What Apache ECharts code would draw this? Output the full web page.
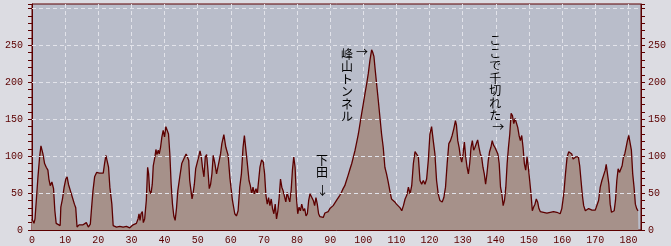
<!DOCTYPE html>
<html><head><meta charset="utf-8">
<script src="https://cdn.jsdelivr.net/npm/echarts@6/dist/echarts.min.js"></script>
<style>html,body{margin:0;padding:0;background:#dcdce2}#c{width:671px;height:246px}</style>
</head><body><div id="c"></div>
<script>
const dist = [0,0.3,0.6,0.9,1.3,1.8,2.3,2.7,3.3,3.8,4.3,4.8,5.1,5.5,6.0,6.5,6.9,7.3,7.9,8.5,8.7,9.2,9.7,10.2,10.6,11.0,11.6,12.2,12.8,13.2,13.6,14.2,14.8,15.4,16.0,16.4,17.0,17.6,18.0,18.4,18.9,19.5,19.9,20.4,20.9,21.5,21.9,22.3,22.7,23.1,23.5,24.1,24.5,25.5,26.5,27.5,28.5,29.5,30.0,30.5,31.0,31.5,32.0,32.3,32.6,32.9,33.3,33.6,34.0,34.5,34.9,35.2,35.5,35.9,36.3,36.6,37.1,37.4,37.7,38.1,38.4,38.8,39.2,39.6,40.0,40.4,40.8,41.2,41.6,42.0,42.4,42.8,43.2,43.6,44.0,44.6,45.2,45.6,46.1,46.5,46.9,47.3,47.6,48.0,48.3,48.6,49.0,49.4,49.8,50.3,50.7,51.1,51.5,51.9,52.3,52.7,53.1,53.5,53.9,54.3,54.7,55.2,55.7,56.1,56.5,56.9,57.3,57.9,58.5,59.2,59.7,60.5,61.2,61.7,62.2,62.7,63.2,63.7,64.1,64.5,64.9,65.5,65.9,66.3,66.7,67.1,67.6,68.0,68.4,68.8,69.3,69.8,70.2,70.6,71.0,71.4,71.8,72.2,72.6,73.0,73.4,73.8,74.2,74.6,75.0,75.4,75.8,76.2,76.6,77.0,77.4,77.8,78.2,78.6,79.0,79.4,79.8,80.2,80.6,81.0,81.4,81.9,82.3,82.7,83.1,83.5,83.9,84.4,84.9,85.3,85.7,86.1,86.5,86.9,87.4,87.9,88.4,88.9,89.4,89.9,90.4,90.9,91.4,91.9,92.4,92.9,93.4,93.9,94.4,94.9,95.4,96.0,96.5,97.0,97.5,98.0,98.5,99.0,99.5,100.0,100.5,101.0,101.5,102.0,102.5,102.8,103.2,103.6,104.0,104.5,105.0,105.5,106.0,106.5,107.0,107.5,108.0,108.5,109.0,109.5,110.0,110.5,111.1,111.6,112.1,112.6,113.1,113.6,114.1,114.6,115.1,115.6,116.1,116.6,117.1,117.6,118.1,118.6,119.1,119.6,120.1,120.6,121.1,121.6,122.1,122.6,123.1,123.8,124.3,124.8,125.3,125.8,126.3,126.8,127.3,127.8,128.1,128.5,128.9,129.3,129.7,130.1,130.5,130.9,131.3,131.7,132.1,132.5,132.9,133.3,133.7,134.1,134.5,134.9,135.3,135.7,136.1,136.5,136.9,137.3,137.7,138.1,138.5,138.9,139.3,139.7,140.2,140.6,141.0,141.4,141.8,142.2,142.6,143.0,143.4,143.8,144.2,144.6,145.0,145.4,145.8,146.2,146.6,147.0,147.4,147.8,148.2,148.6,149.0,149.4,149.8,150.2,150.6,151.0,151.4,151.8,152.2,152.6,153.0,153.4,154.4,155.4,156.4,157.4,158.4,159.4,159.9,160.5,161.0,161.5,162.0,162.5,162.9,163.3,163.7,164.1,164.5,164.9,165.3,165.7,166.1,166.5,167.0,167.5,168.0,168.5,169.0,169.5,170.0,170.5,171.0,171.5,172.0,172.5,173.0,173.3,173.7,174.1,174.5,174.9,175.3,175.7,176.1,176.5,176.9,177.3,177.7,178.1,178.5,178.9,179.3,179.7,180.1,180.5,180.9,181.3,181.7,182.1,182.5,182.9,183.0];
const elev = [15,15,9,15,40,72,99,114,103,90,85,81,69,60,65,56,26,9,9,6,31,42,58,69,72,62,53,44,35,30,4,7,6,7,6,10,4,8,31,53,72,78,76,77,75,77,90,101,102,85,58,35,6,4,5,4,5,3,4,7,7,9,15,22,13,22,25,10,15,40,85,76,53,49,62,87,99,109,102,108,103,112,126,135,126,140,141,130,103,62,35,19,13,29,53,72,90,94,95,103,99,94,67,53,42,49,62,83,85,99,107,99,83,72,99,102,81,56,62,76,101,90,76,74,94,103,117,129,112,101,72,40,22,19,26,58,76,112,128,129,94,67,60,49,58,49,56,49,67,85,95,92,76,47,35,44,33,42,29,22,35,15,26,44,69,58,53,51,38,51,44,38,53,81,99,85,44,22,31,26,35,26,29,19,22,40,49,48,40,33,44,35,22,18,19,17,23,24,25,29,31,33,35,40,42,47,51,56,60,67,74,83,90,99,108,119,130,144,158,171,185,198,212,230,244,241,235,216,198,176,153,130,112,85,76,65,53,42,40,38,35,33,30,26,33,42,47,58,49,60,90,106,107,99,67,62,67,62,69,94,130,140,121,103,67,49,40,38,44,58,90,117,121,128,137,148,142,121,112,99,92,103,119,99,85,76,90,112,121,108,112,117,122,112,103,99,85,76,62,76,94,106,112,121,115,112,110,103,90,58,49,33,40,58,90,112,130,158,155,144,151,153,139,128,121,128,112,90,81,99,85,67,49,26,31,35,42,38,29,25,24,23,24,25,24,22,29,49,76,99,106,108,103,96,94,99,101,99,87,67,47,33,26,25,29,31,27,26,27,27,40,58,67,74,81,89,87,62,35,24,25,26,40,67,83,78,76,87,99,103,112,121,128,126,108,76,58,35,29,26,26];
const xTicks = [0,10,20,30,40,50,60,70,80,90,100,110,120,130,140,150,160,170,180];
const yTicks = [0,50,100,150,200,250];
const yGrid = [50,100,150,200,250,300];
const notes = [
  {text:'峰\n山\nト\nン\nネ\nル', x:95.1, y:246.5, pos:'bottom'},
  {text:'→', x:99.6, y:240, pos:'inside'},
  {text:'下\n田', x:87.5, y:103, pos:'bottom'},
  {text:'↓', x:87.7, y:53, pos:'inside'},
  {text:'こ\nこ\nで\n千\n切\nれ\nた', x:139.8, y:264.5, pos:'bottom'},
  {text:'→', x:140.7, y:139.5, pos:'inside'}
];

const red = '#5c0000';
const gridCol = '#e2e3ea';
const data = dist.map((d,i)=>[d, elev[i]]);
const chart = echarts.init(document.getElementById('c'));
const yLab = v => yTicks.indexOf(v) >= 0 ? String(v) : '';
const xLab = v => xTicks.indexOf(v) >= 0 ? String(v) : '';
const labFont = {color:red, fontSize:10, fontFamily:'Liberation Mono'};
function yAxis(pos, margin){
  return {
    type:'value', position:pos, min:0, max:306, interval:50,
    axisLine:{show:true, lineStyle:{color:red, width:1}},
    axisTick:{show:true, length:4, lineStyle:{color:red}},
    minorTick:{show:true, splitNumber:5, length:4, lineStyle:{color:red}},
    axisLabel:Object.assign({margin:margin, formatter:yLab, showMaxLabel:false}, labFont),
    splitLine:{show:false}
  };
}
chart.setOption({
  backgroundColor:'#dcdce2',
  animation:false,
  grid:{left:32, right:30, top:4, bottom:16, show:true, backgroundColor:'#b9bdca', borderColor:red, borderWidth:1},
  xAxis:{type:'value', min:0, max:183.8, interval:10,
    axisLine:{show:true, lineStyle:{color:red}},
    axisTick:{show:false},
    axisLabel:Object.assign({margin:5, formatter:xLab, showMaxLabel:false}, labFont),
    splitLine:{show:true, lineStyle:{color:gridCol, type:[4,3], width:1}}
  },
  yAxis:[yAxis('left',9), yAxis('right',7)],
  series:[{
    type:'line', data:[], z:1, silent:true,
    markLine:{silent:true, symbol:'none', animation:false,
      lineStyle:{color:gridCol, type:[4,3], width:1},
      label:{show:false},
      data:yGrid.map(v=>({yAxis:v}))}
  },{
    type:'line', data:data, symbol:'none', yAxisIndex:0, z:3,
    lineStyle:{color:red, width:1.3},
    areaStyle:{color:'#a6918a', opacity:1},
    markPoint:{
      symbol:'circle', symbolSize:0, silent:true,
      label:{show:true, color:'#000', fontSize:12, lineHeight:12.5, fontFamily:'Noto Sans CJK JP'},
      data: notes.map(n=>({coord:[n.x,n.y], value:0,
        label:{position:n.pos, distance:0, formatter:n.text}}))
    }
  }]
});
</script></body></html>
